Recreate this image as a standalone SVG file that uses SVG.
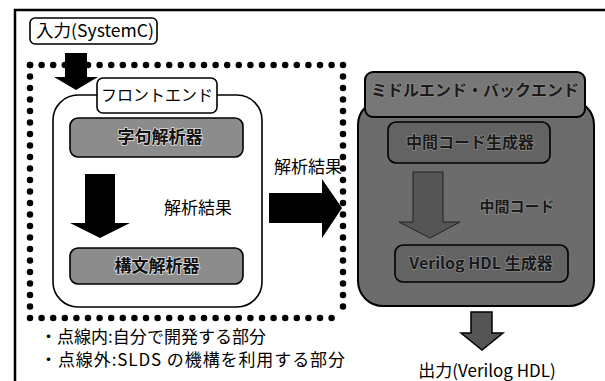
<svg xmlns="http://www.w3.org/2000/svg" width="605" height="381" viewBox="0 0 605 381">
<style>
text{font-family:"Noto Sans CJK JP","Liberation Sans",sans-serif;fill:#000}
.lbl{font-size:16px}
.big{font-size:17px}
.bx{font-size:17px;font-weight:bold;fill:#111;stroke:#ddd;stroke-width:1.6px;paint-order:stroke}
.dbx{font-size:16px;font-weight:bold;fill:#1a1a1a;stroke:#8a8a8a;stroke-width:1.4px;paint-order:stroke}
.wbox{fill:#fff;stroke:#000;stroke-width:1.6}
.gbox{fill:#8c8c8c;stroke:#000;stroke-width:1.6}
.dgray{fill:#6c6c6c;stroke:#000;stroke-width:2}
.dots{fill:none;stroke:#000;stroke-width:6.5;stroke-linecap:round}
</style>
<rect width="605" height="381" fill="#fff"/>
<path d="M15,381 V10 H605" fill="none" stroke="#000" stroke-width="2.5"/>

<g id="dotted-area">
<line class="dots" x1="30" y1="65" x2="343" y2="65" stroke-dasharray="0 11.6"/>
<line class="dots" x1="30" y1="318" x2="343" y2="318" stroke-dasharray="0 11.6"/>
<line class="dots" x1="30" y1="65" x2="30" y2="318" stroke-dasharray="0 11.5"/>
<line class="dots" x1="343" y1="65" x2="343" y2="318" stroke-dasharray="0 11.5"/>
</g>

<g id="input">
<rect x="30" y="18" width="127" height="26" rx="5" class="wbox"/>
<text x="36" y="37" class="big" textLength="118" lengthAdjust="spacingAndGlyphs">入力(SystemC)</text>
</g>

<g id="connectors">
<polygon points="65,53 87,53 87,77 98,77 76,90 54,77 65,77" fill="#000"/>
</g>

<g id="frontend">
<rect x="53" y="95" width="209" height="212" rx="25" class="wbox"/>
<rect x="97" y="78" width="120" height="35" rx="6" class="wbox"/>
<text x="157" y="101" class="lbl" text-anchor="middle">フロントエンド</text>
</g>

<g id="lexer">
<rect x="70" y="118" width="173" height="39" rx="8" class="gbox"/>
<text x="160" y="143" class="bx" text-anchor="middle">字句解析器</text>
</g>

<g id="connectors2">
<polygon points="85,174 115,174 115,223 130,223 100,238 70,223 85,223" fill="#000"/>
<text x="198" y="214" class="big" text-anchor="middle">解析結果</text>
<polygon points="269,193 322,193 322,179 342,208 322,238 322,223 269,223" fill="#000"/>
<text x="308" y="173" class="big" text-anchor="middle">解析結果</text>
</g>

<g id="parser">
<rect x="70" y="248" width="173" height="36" rx="8" class="gbox"/>
<text x="157" y="272" class="bx" text-anchor="middle">構文解析器</text>
</g>

<g id="backend">
<rect x="358" y="100" width="236" height="206" rx="25" class="dgray"/>
<rect x="365" y="72" width="220" height="45" rx="8" fill="#777" stroke="#000" stroke-width="2"/>
<text x="475" y="96" class="dbx" text-anchor="middle">ミドルエンド・バックエンド</text>
</g>

<g id="ir-gen">
<rect x="388" y="122" width="162" height="41" rx="8" fill="#636363" stroke="#000" stroke-width="1.6"/>
<text x="470" y="148" class="dbx" text-anchor="middle">中間コード生成器</text>
</g>

<g id="connectors3">
<polygon points="413,172 443,172 443,222 460,222 430,238 399,222 413,222" fill="#555" stroke="#222" stroke-width="1"/>
<text x="517" y="212" class="dbx" text-anchor="middle" style="font-size:15px">中間コード</text>
<polygon points="471,312 492,312 492,333 503,333 482,350 461,333 471,333" fill="#555" stroke="#000" stroke-width="1.5"/>
</g>

<g id="verilog-gen">
<rect x="395" y="245" width="173" height="37" rx="8" fill="#636363" stroke="#000" stroke-width="1.6"/>
<text x="481" y="269" class="dbx" text-anchor="middle">Verilog HDL 生成器</text>
</g>

<g id="output">
<text x="487" y="377" class="big" text-anchor="middle">出力(Verilog HDL)</text>
</g>

<g id="notes">
<text x="40" y="343" class="big" textLength="226" lengthAdjust="spacing">・点線内:自分で開発する部分</text>
<text x="40" y="366" class="big" textLength="305" lengthAdjust="spacing">・点線外:SLDS の機構を利用する部分</text>
</g>
</svg>
